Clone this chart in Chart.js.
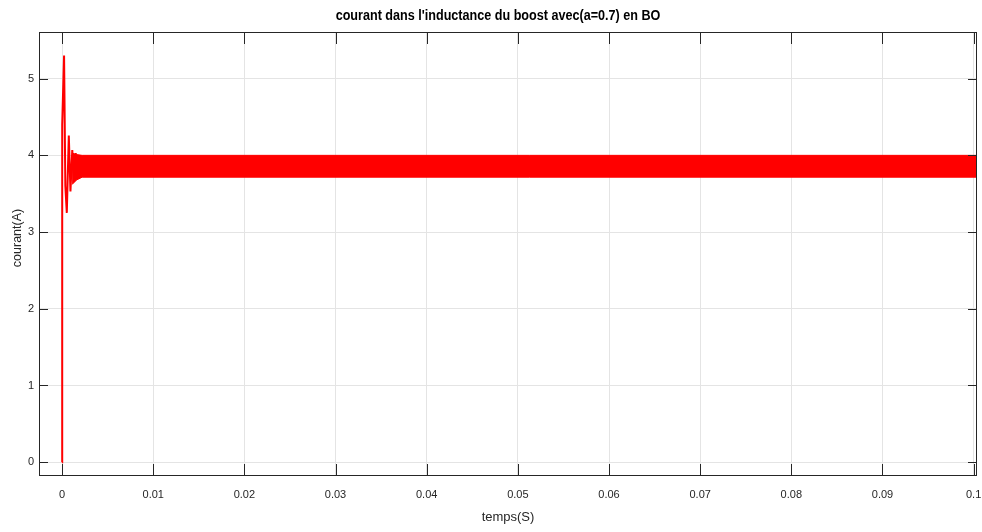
<!DOCTYPE html>
<html>
<head>
<meta charset="utf-8">
<script src="https://cdn.jsdelivr.net/npm/chart.js@4.4.1/dist/chart.umd.min.js"></script>
<style>
html,body{margin:0;padding:0;background:#fff;}
#wrap{width:982px;height:532px;}
</style>
</head>
<body>
<div id="wrap"><canvas id="c" width="982" height="532"></canvas></div>
<script>
// ---- data ----
const titleText = "courant dans l'inductance du boost avec(a=0.7) en BO";
const xAxisLabel = "temps(S)";
const yAxisLabel = "courant(A)";

// start-up transient of the inductor current (s, A)
const tTransient = [0, 0.00001, 0.00002, 0.00022, 0.00036, 0.00052, 0.00074, 0.00092, 0.00112, 0.00132, 0.0015, 0.00168, 0.00186, 0.0021];
const iTransient = [0, 0.35, 4.4, 5.30, 3.60, 3.25, 4.26, 3.53, 4.07, 3.66, 4.03, 3.70, 3.99, 3.75];

// steady-state switching ripple envelope (s, A)
const tBand = [0.0011, 0.0016, 0.0022, 0.1004];
const iBandHigh = [4.03, 4.01, 4.00, 4.00];
const iBandLow = [3.62, 3.68, 3.715, 3.715];

// axis ticks
const xTicks = [0, 0.01, 0.02, 0.03, 0.04, 0.05, 0.06, 0.07, 0.08, 0.09, 0.1];
const xTickLabels = ['0', '0.01', '0.02', '0.03', '0.04', '0.05', '0.06', '0.07', '0.08', '0.09', '0.1'];
const yTicks = [0, 1, 2, 3, 4, 5];
const yTickLabels = ['0', '1', '2', '3', '4', '5'];

const FONT = "'Liberation Sans', Arial, Helvetica, sans-serif";
const AXIS_COLOR = '#262626';

const toXY = (ts, vs) => ts.map((t, i) => ({x: t, y: vs[i]}));

const framePlugin = {
  id: 'frame',
  afterDraw(chart) {
    const {ctx, chartArea: a, scales: {x, y}} = chart;
    ctx.save();
    ctx.strokeStyle = AXIS_COLOR;
    ctx.lineWidth = 1;
    ctx.beginPath();
    xTicks.forEach(v => {
      const px = Math.round(x.getPixelForValue(v)) + 0.5;
      ctx.moveTo(px, a.bottom); ctx.lineTo(px, a.bottom - 12);
      ctx.moveTo(px, a.top); ctx.lineTo(px, a.top + 12);
    });
    yTicks.forEach(v => {
      const py = Math.round(y.getPixelForValue(v)) + 0.5;
      ctx.moveTo(a.left, py); ctx.lineTo(a.left + 9, py);
      ctx.moveTo(a.right, py); ctx.lineTo(a.right - 9, py);
    });
    ctx.stroke();
    ctx.strokeRect(a.left + 0.5, a.top + 0.5, a.right - a.left - 1, a.bottom - a.top - 1);

    // title (slightly condensed, as in the reference)
    ctx.fillStyle = '#000';
    ctx.textAlign = 'center';
    ctx.textBaseline = 'middle';
    ctx.save();
    ctx.translate(498, 16);
    ctx.scale(0.9, 1);
    ctx.font = 'bold 14px ' + FONT;
    ctx.fillText(titleText, 0, 0);
    ctx.restore();
    // x label
    ctx.fillStyle = '#262626';
    ctx.font = '13px ' + FONT;
    ctx.fillText(xAxisLabel, 508, 517);
    // y label
    ctx.translate(18, 238);
    ctx.rotate(-Math.PI / 2);
    ctx.font = '12.5px ' + FONT;
    ctx.fillText(yAxisLabel, 0, 0);
    ctx.restore();
  }
};

new Chart(document.getElementById('c'), {
  type: 'line',
  data: {
    datasets: [
      {
        data: toXY(tBand, iBandLow),
        borderColor: '#ff0000', borderWidth: 1, pointRadius: 0, fill: false, tension: 0
      },
      {
        data: toXY(tBand, iBandHigh),
        borderColor: '#ff0000', borderWidth: 1, pointRadius: 0, tension: 0,
        fill: '-1', backgroundColor: '#ff0000'
      },
      {
        data: toXY(tTransient, iTransient),
        borderColor: '#ff0000', borderWidth: 2, pointRadius: 0, fill: false, tension: 0
      }
    ]
  },
  options: {
    responsive: false,
    animation: false,
    devicePixelRatio: 1,
    layout: {padding: {top: 32, right: 5, left: 0, bottom: 0}},
    plugins: {legend: {display: false}, tooltip: {enabled: false}, title: {display: false}},
    scales: {
      x: {
        type: 'linear',
        min: -0.00253, max: 0.10037,
        afterBuildTicks: s => { s.ticks = xTicks.map(v => ({value: v})); },
        afterFit: s => { s.height = 56; s.paddingLeft = 0; s.paddingRight = 0; },
        grid: {color: '#e4e4e4', drawTicks: false, lineWidth: 1},
        border: {display: false},
        ticks: {
          callback: (v, i) => xTickLabels[i],
          font: {family: FONT, size: 11}, color: '#262626', padding: 12, maxRotation: 0, autoSkip: false
        }
      },
      y: {
        type: 'linear',
        min: -0.18, max: 5.608,
        afterBuildTicks: s => { s.ticks = yTicks.map(v => ({value: v})); },
        afterFit: s => { s.width = 39; s.paddingTop = 0; s.paddingBottom = 0; },
        grid: {color: '#e4e4e4', drawTicks: false, lineWidth: 1},
        border: {display: false},
        ticks: {
          callback: (v, i) => yTickLabels[i],
          font: {family: FONT, size: 11}, color: '#262626', padding: 5, autoSkip: false
        }
      }
    }
  },
  plugins: [framePlugin]
});
</script>
</body>
</html>
